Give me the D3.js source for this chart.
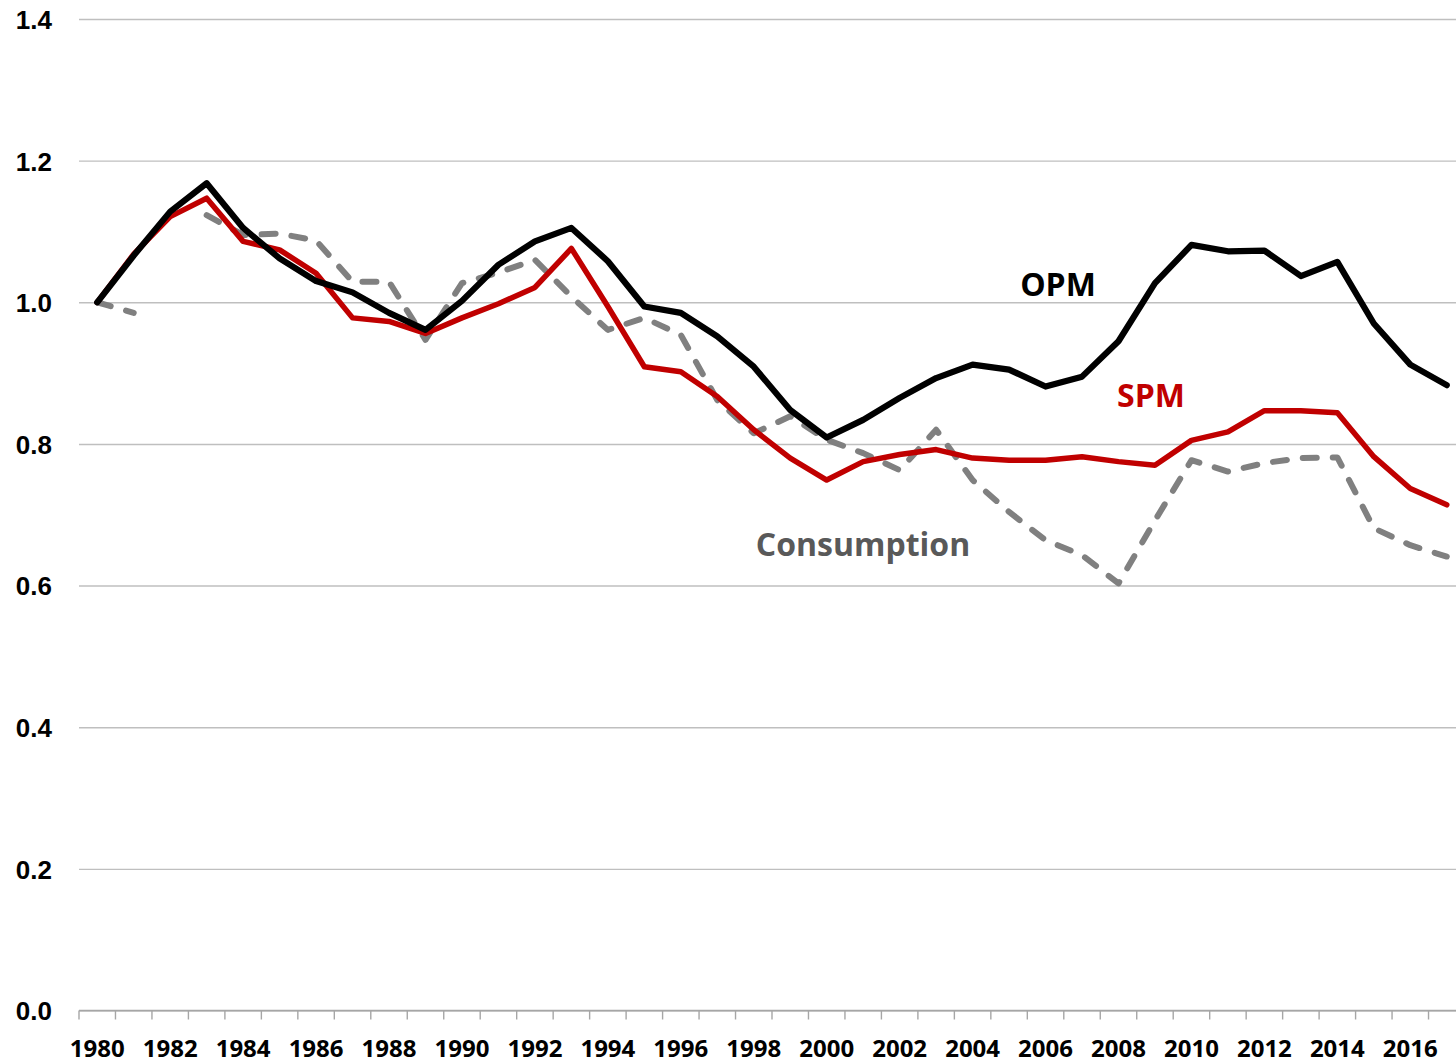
<!DOCTYPE html>
<html>
<head>
<meta charset="utf-8">
<script src="https://cdn.jsdelivr.net/npm/d3@7"></script>
<style>
  html, body { margin: 0; padding: 0; background: #fff; }
  svg { display: block; font-family: "Open Sans", "Noto Sans", sans-serif; }
</style>
</head>
<body>
<svg id="chart" width="1456" height="1064"></svg>
<script>
// ---- data ----
const years = [1980, 1981, 1982, 1983, 1984, 1985, 1986, 1987, 1988, 1989,
               1990, 1991, 1992, 1993, 1994, 1995, 1996, 1997, 1998, 1999,
               2000, 2001, 2002, 2003, 2004, 2005, 2006, 2007, 2008, 2009,
               2010, 2011, 2012, 2013, 2014, 2015, 2016, 2017];

const opm = [1.000, 1.066, 1.128, 1.168, 1.105, 1.062, 1.030, 1.014, 0.985, 0.961,
             1.002, 1.053, 1.086, 1.105, 1.058, 0.994, 0.985, 0.952, 0.909, 0.848,
             0.809, 0.834, 0.865, 0.893, 0.912, 0.905, 0.881, 0.895, 0.945, 1.027,
             1.081, 1.072, 1.073, 1.037, 1.057, 0.970, 0.912, 0.883];

const spm = [1.000, 1.068, 1.121, 1.147, 1.086, 1.074, 1.041, 0.978, 0.973, 0.956,
             0.978, 0.998, 1.021, 1.076, 0.994, 0.909, 0.902, 0.867, 0.820, 0.780,
             0.749, 0.775, 0.785, 0.792, 0.780, 0.777, 0.777, 0.782, 0.775, 0.770,
             0.805, 0.817, 0.847, 0.847, 0.844, 0.782, 0.737, 0.714];

// 1982 has no consumption value (gap in the dashed line)
const consumption = [1.000, 0.985, null, 1.123, 1.095, 1.097, 1.087, 1.029, 1.029, 0.947,
                     1.027, 1.042, 1.060, 1.008, 0.961, 0.978, 0.954, 0.862, 0.815, 0.839,
                     0.806, 0.787, 0.763, 0.820, 0.749, 0.704, 0.664, 0.643, 0.603, 0.692,
                     0.777, 0.761, 0.773, 0.780, 0.781, 0.681, 0.657, 0.641];

const yTicks = [0, 0.2, 0.4, 0.6, 0.8, 1.0, 1.2, 1.4];

const series = [
  { name: "Consumption", values: consumption, color: "#808080", width: 6, dash: "14,16",
    label: { x: 863, y: 556, color: "#595959" } },
  { name: "SPM", values: spm, color: "#c00000", width: 5.5, dash: null,
    label: { x: 1151, y: 407, color: "#c00000" } },
  { name: "OPM", values: opm, color: "#000000", width: 6.2, dash: null,
    label: { x: 1058, y: 296, color: "#000000" } }
];

// ---- layout ----
const svg = d3.select("#chart");
const plotL = 79, plotR = 1465, plotT = 19, plotB = 1010.5;

const x = d3.scaleBand().domain(years).range([plotL, plotR]).padding(0);
const xc = (yr) => x(yr) + x.bandwidth() / 2;
const y = d3.scaleLinear().domain([0, 1.4]).range([plotB, plotT]);

// 网格线 + y 轴标签
const yAxis = d3.axisLeft(y).tickValues(yTicks).tickFormat(d3.format(".1f"))
  .tickSize(-(plotR - plotL)).tickPadding(27);
const gy = svg.append("g").attr("transform", `translate(${plotL},0)`).call(yAxis);
gy.select(".domain").remove();
gy.selectAll(".tick line").attr("stroke", "#bfbfbf").attr("stroke-width", 1.4);
gy.selectAll(".tick text").attr("fill", "#000").style("font-size", "26px")
  .style("font-weight", 700).attr("dy", "0.36em");

// x 轴：刻度在类别之间，标签隔年
const xg = svg.append("g");
xg.append("line").attr("x1", plotL).attr("x2", plotR)
  .attr("y1", plotB).attr("y2", plotB).attr("stroke", "#a6a6a6").attr("stroke-width", 1.4);
const edges = years.map((d) => x(d)).concat([plotR]);
xg.selectAll("line.tk").data(edges).join("line").attr("class", "tk")
  .attr("x1", (d) => d).attr("x2", (d) => d)
  .attr("y1", plotB).attr("y2", plotB + 9)
  .attr("stroke", "#a6a6a6").attr("stroke-width", 1.4);
xg.selectAll("text").data(years.filter((d, i) => i % 2 === 0 && d <= 2016)).join("text")
  .attr("x", (d) => xc(d)).attr("y", 1057)
  .attr("text-anchor", "middle").attr("fill", "#000")
  .style("font-size", "24px").style("font-weight", 700).text((d) => d);

// ---- lines ----
const line = d3.line()
  .defined((d) => d != null)
  .x((d, i) => xc(years[i]))
  .y((d) => y(d));

series.forEach((s) => {
  svg.append("path").datum(s.values)
    .attr("fill", "none").attr("stroke", s.color).attr("stroke-width", s.width)
    .attr("stroke-linejoin", "round").attr("stroke-linecap", "round")
    .attr("stroke-dasharray", s.dash)
    .attr("d", line);
});

// 系列标签
series.forEach((s) => {
  svg.append("text").attr("x", s.label.x).attr("y", s.label.y)
    .attr("text-anchor", "middle").attr("fill", s.label.color)
    .style("font-size", "32px").style("font-weight", 700).text(s.name);
});
</script>
</body>
</html>
